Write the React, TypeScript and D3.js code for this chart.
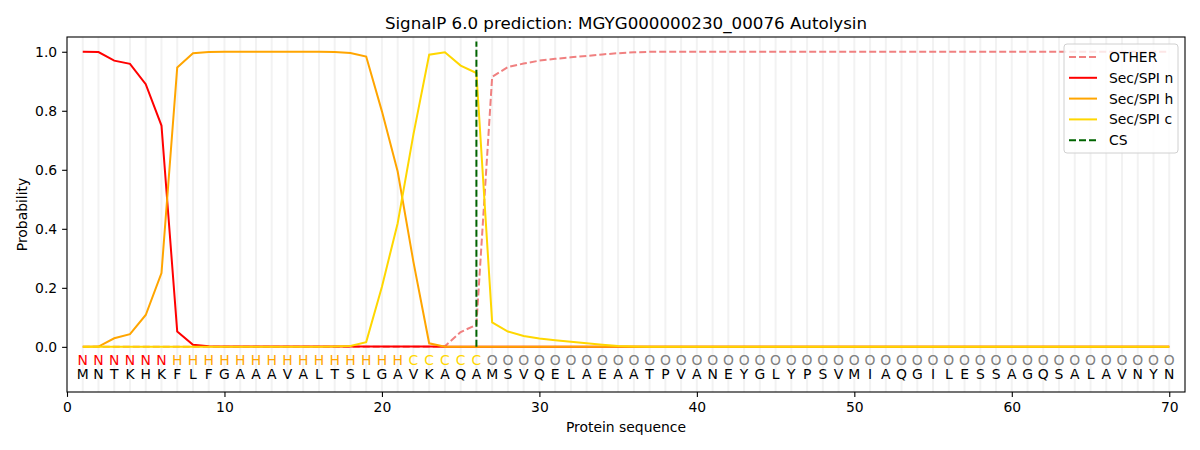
// @ts-nocheck
import React, { useEffect, useRef } from "react";
import * as d3 from "d3";

const sequence = "MNTKHKFLFGAAAVALTSLGAVKAQAMSVQELAEAATPVANEYGLYPSVMIAQGILESSAGQSALAVNYN".split("");
const regionLabels = "NNNNNNHHHHHHHHHHHHHHHCCCCC".split("").concat(Array(44).fill("O"));

// probabilities per residue (1..70)
const otherProb = [
  0, 0, 0, 0, 0, 0, 0, 0, 0, 0, 0, 0, 0, 0, 0, 0, 0, 0, 0, 0, 0, 0, 0, 0.002, 0.05, 0.075,
  0.915, 0.948, 0.96, 0.97, 0.976, 0.981, 0.986, 0.991, 0.995, 0.998,
  ...Array(34).fill(1.0),
];
const nProb = [
  1.0, 0.999, 0.97, 0.959, 0.89, 0.75, 0.052, 0.007, 0.002, 0.001, 0.001, 0.001, 0.001, 0.001, 0.001, 0.001, 0.001, 0.001, 0.001, 0.001, 0.001, 0.001, 0.001, 0, 0, 0,
  ...Array(44).fill(0),
];
const hProb = [
  0, 0.001, 0.029, 0.043, 0.108, 0.25, 0.947, 0.995, 0.999, 1.0, 1.0, 1.0, 1.0, 1.0, 1.0, 1.0, 0.999, 0.996, 0.984, 0.798, 0.594, 0.288, 0.012, 0.0, 0, 0,
  ...Array(44).fill(0),
];
const cProb = [
  0, 0, 0, 0, 0, 0, 0, 0, 0, 0, 0, 0, 0, 0, 0, 0, 0.001, 0.003, 0.016, 0.204, 0.419, 0.72, 0.99, 0.998, 0.953, 0.928,
  0.083, 0.052, 0.037, 0.028, 0.022, 0.017, 0.012, 0.007, 0.003, 0.001,
  ...Array(34).fill(0),
];
const csPosition = 26;

const xTicks = [0, 10, 20, 30, 40, 50, 60, 70];
const yTicks = [0, 0.2, 0.4, 0.6, 0.8, 1.0];

const series = [
  { name: "OTHER", values: otherProb, color: "#f08080", dash: "7 3" },
  { name: "Sec/SPI n", values: nProb, color: "#ff0000", dash: null },
  { name: "Sec/SPI h", values: hProb, color: "#ffa500", dash: null },
  { name: "Sec/SPI c", values: cProb, color: "#ffd700", dash: null },
];
const labelColors = { N: "#ff0000", H: "#ffa500", C: "#ffd700", O: "#808080" };

export default function App() {
  const svgRef = useRef(null);

  useEffect(() => {
    const width = 1200;
    const height = 450;
    const margin = { top: 37, right: 15, bottom: 58, left: 67 };
    const svg = d3.select(svgRef.current);
    svg.selectAll("*").remove();
    svg.attr("viewBox", `0 0 ${width} ${height}`);

    const x = d3.scaleLinear().domain([0, 71]).range([margin.left, width - margin.right]);
    const y = d3.scaleLinear().domain([-0.153, 1.05]).range([height - margin.bottom, margin.top]);

    const font = "DejaVu Sans, sans-serif";

    svg.append("rect").attr("width", width).attr("height", height).attr("fill", "#fff");

    // residue grid lines
    svg.append("g")
      .selectAll("line")
      .data(sequence.map((_, i) => i + 1))
      .join("line")
      .attr("x1", d => x(d))
      .attr("x2", d => x(d))
      .attr("y1", margin.top)
      .attr("y2", height - margin.bottom)
      .attr("stroke", "#f2f2f2")
      .attr("stroke-width", 2);

    // lines
    const line = d3.line().x((d, i) => x(i + 1)).y(d => y(d));
    series.forEach(s => {
      svg.append("path")
        .datum(s.values)
        .attr("fill", "none")
        .attr("stroke", s.color)
        .attr("stroke-width", 2)
        .attr("stroke-dasharray", s.dash)
        .attr("d", line);
    });

    // CS line
    svg.append("line")
      .attr("x1", x(csPosition))
      .attr("x2", x(csPosition))
      .attr("y1", y(0))
      .attr("y2", y(1.035))
      .attr("stroke", "#006400")
      .attr("stroke-width", 2)
      .attr("stroke-dasharray", "7 3");

    // region labels and residues
    svg.append("g")
      .selectAll("text")
      .data(regionLabels)
      .join("text")
      .attr("x", (d, i) => x(i + 1))
      .attr("y", y(-0.06))
      .attr("text-anchor", "middle")
      .attr("font-family", font)
      .attr("font-size", 13.9)
      .attr("fill", d => labelColors[d])
      .text(d => d);

    svg.append("g")
      .selectAll("text")
      .data(sequence)
      .join("text")
      .attr("x", (d, i) => x(i + 1))
      .attr("y", y(-0.11))
      .attr("text-anchor", "middle")
      .attr("font-family", font)
      .attr("font-size", 13.9)
      .attr("fill", "#000")
      .text(d => d);

    // axes
    const xAxis = svg.append("g")
      .attr("transform", `translate(0,${height - margin.bottom})`)
      .call(d3.axisBottom(x).tickValues(xTicks).tickSize(4.9).tickPadding(4.9));
    const yAxis = svg.append("g")
      .attr("transform", `translate(${margin.left},0)`)
      .call(d3.axisLeft(y).tickValues(yTicks).tickFormat(d3.format(".1f")).tickSize(4.9).tickPadding(4.9));
    [xAxis, yAxis].forEach(a => {
      a.select(".domain").remove();
      a.selectAll("text").attr("font-family", font).attr("font-size", 13.9).attr("fill", "#000");
      a.selectAll("line").attr("stroke", "#000").attr("stroke-width", 1.1);
    });

    svg.append("rect")
      .attr("x", margin.left)
      .attr("y", margin.top)
      .attr("width", width - margin.left - margin.right)
      .attr("height", height - margin.top - margin.bottom)
      .attr("fill", "none")
      .attr("stroke", "#000")
      .attr("stroke-width", 1.1);

    // titles
    svg.append("text")
      .attr("x", (margin.left + width - margin.right) / 2)
      .attr("y", 29)
      .attr("text-anchor", "middle")
      .attr("font-family", font)
      .attr("font-size", 16.7)
      .text("SignalP 6.0 prediction: MGYG000000230_00076 Autolysin");

    svg.append("text")
      .attr("x", (margin.left + width - margin.right) / 2)
      .attr("y", 432)
      .attr("text-anchor", "middle")
      .attr("font-family", font)
      .attr("font-size", 13.9)
      .text("Protein sequence");

    svg.append("text")
      .attr("transform", `translate(27,${(margin.top + height - margin.bottom) / 2}) rotate(-90)`)
      .attr("text-anchor", "middle")
      .attr("font-family", font)
      .attr("font-size", 13.9)
      .text("Probability");

    // legend
    const legendItems = [
      ...series.map(s => ({ name: s.name, color: s.color, dash: s.dash })),
      { name: "CS", color: "#006400", dash: "7 3" },
    ];
    const lg = svg.append("g").attr("transform", "translate(1064,44)");
    lg.append("rect")
      .attr("width", 114)
      .attr("height", 109)
      .attr("rx", 3)
      .attr("fill", "#fff")
      .attr("fill-opacity", 0.8)
      .attr("stroke", "#d0d0d0");
    legendItems.forEach((it, i) => {
      const yy = 13 + i * 20.8;
      lg.append("line")
        .attr("x1", 5)
        .attr("x2", 33)
        .attr("y1", yy)
        .attr("y2", yy)
        .attr("stroke", it.color)
        .attr("stroke-width", 2)
        .attr("stroke-dasharray", it.dash);
      lg.append("text")
        .attr("x", 45)
        .attr("y", yy + 5)
        .attr("font-family", font)
        .attr("font-size", 13.9)
        .text(it.name);
    });
  }, []);

  return (
    <svg
      ref={svgRef}
      width={1200}
      height={450}
      style={{ position: "absolute", left: 0, top: 0 }}
    />
  );
}
